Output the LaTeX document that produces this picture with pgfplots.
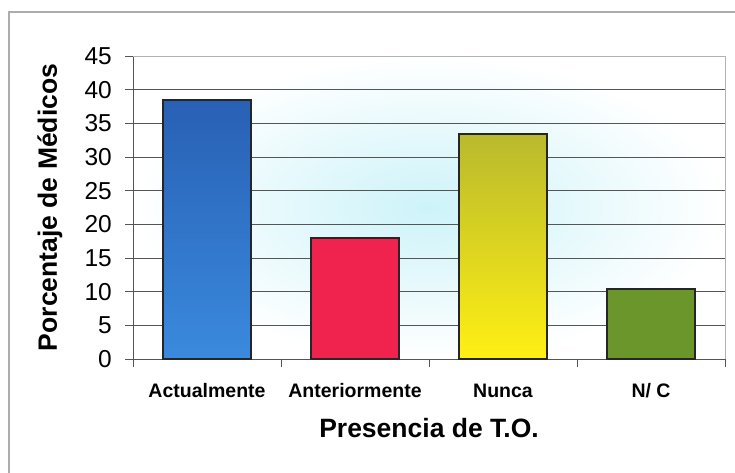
\documentclass[border=0pt]{standalone}
\usepackage{fontspec}
\setmainfont{Liberation Sans}
\usepackage{pgfplots}
\pgfplotsset{compat=1.18}
\definecolor{gridc}{RGB}{85,85,85}
\definecolor{bluetop}{RGB}{40,96,180}
\definecolor{bluebot}{RGB}{58,138,222}
\definecolor{redbar}{RGB}{240,34,78}
\definecolor{yeltop}{RGB}{185,185,45}
\definecolor{yelmid}{RGB}{250,232,20}
\definecolor{yelbot}{RGB}{255,240,20}
\definecolor{greenbar}{RGB}{106,150,44}
\definecolor{bgcyan}{RGB}{205,243,249}
\begin{document}
\begin{tikzpicture}[x=1pt,y=1pt]
\path[use as bounding box] (0,0) rectangle (735,472);
\draw[gray!65, line width=1.5pt] (9,-5) -- (9,460) -- (740,460);
\begin{axis}[
  at={(207pt,113pt)}, anchor=origin,
  scale only axis, width=592pt, height=303pt,
  xmin=-0.5, xmax=3.5, ymin=0, ymax=45,
  axis x line*=bottom, axis y line*=left,
  axis line style={draw=gridc, line width=1pt},
  ytick={0,5,...,40},
  extra y ticks={45}, extra y tick style={grid=none},
  ymajorgrids,
  major grid style={draw=gridc, line width=1pt},
  tick align=outside,
  major tick length=8pt,
  tick style={draw=gridc, line width=1pt},
  xtick={-0.5,0.5,1.5,2.5,3.5},
  x tick label as interval,
  xticklabels={Actualmente,Anteriormente,Nunca,N/ C},
  xticklabel style={font=\fontsize{19.5}{22}\selectfont\bfseries, inner sep=0pt, anchor=north, text height=15pt, text depth=4pt, yshift=-15pt},
  yticklabel style={font=\fontsize{24.5}{26}\selectfont, inner sep=0pt, anchor=east, xshift=-13pt},
  /pgf/number format/assume math mode=true,
  xlabel={Presencia de T.O.},
  ylabel={Porcentaje de Médicos},
  every axis x label/.style={at={(axis description cs:0.5,0)}, anchor=center, yshift=-69pt, font=\fontsize{26.5}{30}\selectfont\bfseries},
  every axis y label/.style={at={(axis description cs:0,0.5)}, rotate=90, anchor=center, yshift=83pt, font=\fontsize{26.5}{30}\selectfont\bfseries},
  axis background/.style={inner color=bgcyan, outer color=white},
  clip=false,
]
\addplot[ybar, bar width=88pt, draw=black!85, line width=2.5pt, top color=bluetop, bottom color=bluebot] coordinates {(0,38.5)};
\addplot[ybar, bar width=88pt, draw=black!85, line width=2.5pt, fill=redbar] coordinates {(1,18.0)};
\addplot[ybar, bar width=88pt, draw=black!85, line width=2.5pt, top color=yeltop, middle color=yelmid, bottom color=yelbot] coordinates {(2,33.4)};
\addplot[ybar, bar width=88pt, draw=black!85, line width=2.5pt, fill=greenbar] coordinates {(3,10.4)};
\draw[gray!60, line width=1pt] (rel axis cs:0,1) -- (rel axis cs:1,1) -- (rel axis cs:1,0);
\end{axis}
\end{tikzpicture}
\end{document}
